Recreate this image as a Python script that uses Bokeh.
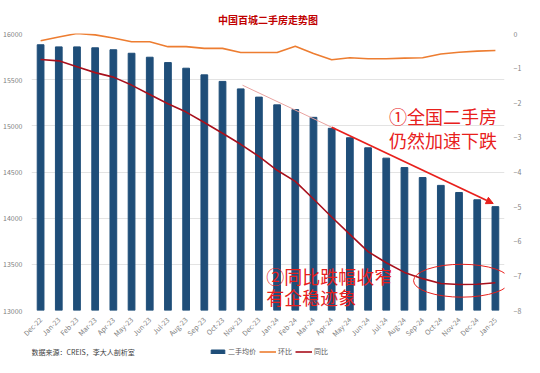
import math
from bokeh.plotting import figure
from bokeh.layouts import column
from bokeh.models import (FactorRange, Range1d, LinearAxis, FixedTicker, Legend, LegendItem,
                          Label, Arrow, NormalHead)
from bokeh.embed import file_html
from bokeh.resources import INLINE

months = ["Dec-22", "Jan-23", "Feb-23", "Mar-23", "Apr-23", "May-23", "Jun-23", "Jul-23",
          "Aug-23", "Sep-23", "Oct-23", "Nov-23", "Dec-23", "Jan-24", "Feb-24", "Mar-24",
          "Apr-24", "May-24", "Jun-24", "Jul-24", "Aug-24", "Sep-24", "Oct-24", "Nov-24",
          "Dec-24", "Jan-25"]
price = [15878, 15855, 15855, 15845, 15824, 15786, 15743, 15685, 15624, 15552, 15481, 15400,
         15311, 15227, 15176, 15092, 14973, 14871, 14762, 14650, 14548, 14440, 14355, 14278,
         14199, 14125]
mom = [-0.21, -0.10, 0.00, -0.04, -0.13, -0.24, -0.24, -0.38, -0.38, -0.43, -0.43, -0.55,
       -0.55, -0.55, -0.37, -0.58, -0.76, -0.70, -0.73, -0.73, -0.71, -0.70, -0.59, -0.54,
       -0.51, -0.49]
yoy = [-0.75, -0.79, -0.96, -1.13, -1.26, -1.49, -1.76, -2.03, -2.27, -2.57, -2.88, -3.20,
       -3.55, -3.95, -4.27, -4.78, -5.30, -5.80, -6.30, -6.62, -6.90, -7.08, -7.22, -7.25,
       -7.24, -7.20]
left_ticks = [13000, 13500, 14000, 14500, 15000, 15500, 16000]
right_ticks = [-8, -7, -6, -5, -4, -3, -2, -1, 0]
series_names = ["二手均价", "环比", "同比"]
source_note = "数据来源：CREIS，李大人剖析室"

FONT = "Noto Sans CJK SC"
RED = "#e8201c"
BLUE = "#1f4e79"
ORANGE = "#ed7d31"
DARKRED = "#a8101c"

p = figure(x_range=FactorRange(*months), y_range=Range1d(left_ticks[0], left_ticks[-1]),
           width=524, height=345, output_backend="svg", toolbar_location=None,
           min_border_left=24, min_border_right=10, min_border_top=33, min_border_bottom=24)
p.outline_line_color = None
p.background_fill_color = "white"

p.title.text = "中国百城二手房走势图"
p.title.align = "center"
p.title.text_color = "#c00000"
p.title.text_font = FONT
p.title.text_font_size = "10px"
p.title.text_font_style = "bold"
p.title.standoff = 14

p.extra_y_ranges = {"pct": Range1d(right_ticks[0], right_ticks[-1])}

p.vbar(x=months, top=price, bottom=left_ticks[0], width=0.37, color=BLUE)
p.line(x=months, y=mom, y_range_name="pct", line_color=ORANGE, line_width=1.6)
p.line(x=months, y=yoy, y_range_name="pct", line_color=DARKRED, line_width=1.6)

# axes
p.yaxis.ticker = FixedTicker(ticks=left_ticks)
ax_r = LinearAxis(y_range_name="pct", ticker=FixedTicker(ticks=right_ticks))
p.add_layout(ax_r, "right")
for ax in [p.yaxis[0], ax_r, p.xaxis[0]]:
    ax.axis_line_color = None
    ax.major_tick_line_color = None
    ax.minor_tick_line_color = None
    ax.major_label_text_font = FONT
    ax.major_label_text_font_size = "7px"
    ax.major_label_text_color = "#7f7f7f"
    ax.major_label_standoff = 3
p.xaxis.major_label_orientation = math.pi / 4
p.xaxis.major_label_standoff = 2
p.xgrid.grid_line_color = None
p.ygrid.grid_line_color = "#e3e3e3"
p.ygrid.grid_line_width = 1

# annotation 1: trend arrow and text
i_nov = months.index("Nov-23")
i_apr = months.index("Apr-24")
i_end = len(months) - 1
x0, y0 = i_nov + 0.6, price[i_nov] + 40
x2, y2 = i_end + 0.38, price[i_end] + 34
t = (i_apr + 0.5 - x0) / (x2 - x0)
x1, y1 = i_apr + 0.5, y0 + t * (y2 - y0)
p.add_layout(Arrow(end=None, x_start=x0, y_start=y0, x_end=x1, y_end=y1,
                   line_color="#e9a3a0", line_width=1))
p.add_layout(Arrow(end=NormalHead(size=7, fill_color=RED, line_color=RED),
                   x_start=x1, y_start=y1, x_end=x2, y_end=y2, line_color=RED, line_width=1.8))

i_jul = months.index("Jul-24")
for txt, yv in [("①全国二手房", 15105), ("仍然加速下跌", 14850)]:
    p.add_layout(Label(x=i_jul + 0.65, y=yv, text=txt, text_font=FONT, text_font_size="18px",
                       text_color=RED, text_baseline="middle"))

# annotation 2: ellipse and text
i_nov24 = months.index("Nov-24")
p.ellipse(x=[i_nov24 + 0.65], y=[yoy[i_nov24] + 0.11], width=5.3, height=0.95,
          y_range_name="pct", fill_color=None, line_color=RED, line_width=1)
i_dec23 = months.index("Dec-23")
for txt, yv in [("②同比跌幅收窄", 13375), ("有企稳迹象", 13150)]:
    p.add_layout(Label(x=i_dec23 + 0.9, y=yv, text=txt, text_font=FONT, text_font_size="18px",
                       text_color=RED, text_baseline="middle"))

# bottom strip: source note and legend (legend swatches use off-frame placeholder glyphs)
q = figure(width=524, height=12, output_backend="svg", toolbar_location=None,
           x_axis_type=None, y_axis_type=None, x_range=Range1d(0, 1), y_range=Range1d(0, 1),
           min_border=0)
q.outline_line_color = None
q.grid.grid_line_color = None
r_bar = q.vbar(x=[-5], top=[-5], bottom=[-6], width=0.1, color=BLUE)
r_mom = q.line(x=[-5, -4], y=[-5, -5], line_color=ORANGE, line_width=1.6)
r_yoy = q.line(x=[-5, -4], y=[-5, -5], line_color=DARKRED, line_width=1.6)
legend = Legend(items=[LegendItem(label=series_names[0], renderers=[r_bar]),
                       LegendItem(label=series_names[1], renderers=[r_mom]),
                       LegendItem(label=series_names[2], renderers=[r_yoy])],
                orientation="horizontal", location=(178, 1),
                label_text_font=FONT, label_text_font_size="7px", label_text_color="#595959",
                glyph_width=17, glyph_height=5, spacing=3, label_standoff=2, label_width=10,
                label_height=8, padding=0, margin=0, background_fill_alpha=0,
                border_line_color=None)
q.add_layout(legend, "center")
q.add_layout(Label(x=0, y=6, x_units="screen", y_units="screen", text=source_note,
                   text_font=FONT, text_font_size="7px", text_color="#404040",
                   text_baseline="middle"))

layout = column(p, q, spacing=0)
open("out.html", "w").write(file_html(layout, INLINE))
